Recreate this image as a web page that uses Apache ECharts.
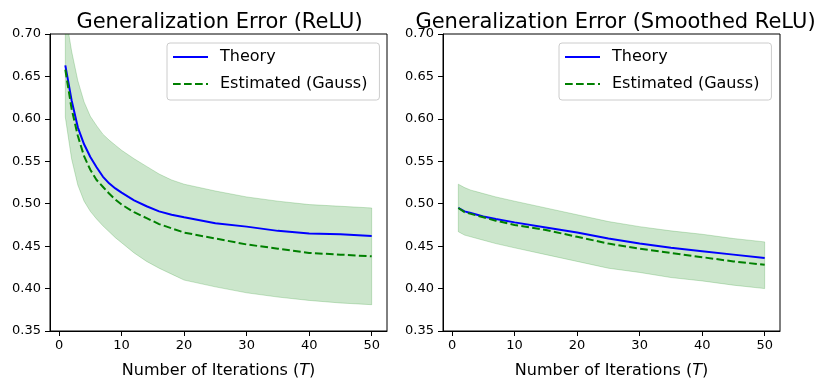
<!DOCTYPE html>
<html>
<head>
<meta charset="utf-8">
<script src="https://cdn.jsdelivr.net/npm/echarts@6/dist/echarts.min.js"></script>
<style>
  html, body { margin: 0; padding: 0; background: #fff; }
  #chart { width: 820px; height: 390px; }
</style>
</head>
<body>
<div id="chart"></div>
<script>
// left panel (ReLU)
var itersL = [1, 2, 3, 4, 5, 6, 7, 8, 9, 10, 12, 14, 16, 18, 20, 25, 30, 35, 40, 45, 50];
var theoryL = [0.663, 0.622, 0.590, 0.570, 0.555, 0.543, 0.532, 0.524, 0.518, 0.513, 0.504, 0.497, 0.491, 0.487, 0.484, 0.477, 0.473, 0.468, 0.465, 0.464, 0.462];
var estL    = [0.658, 0.612, 0.580, 0.556, 0.540, 0.528, 0.520, 0.512, 0.505, 0.499, 0.490, 0.483, 0.476, 0.471, 0.466, 0.459, 0.452, 0.447, 0.442, 0.440, 0.438];
var upperL  = [0.725, 0.680, 0.645, 0.620, 0.603, 0.592, 0.582, 0.575, 0.569, 0.563, 0.553, 0.544, 0.535, 0.528, 0.523, 0.515, 0.508, 0.503, 0.499, 0.497, 0.495];
var lowerL  = [0.602, 0.553, 0.522, 0.503, 0.491, 0.482, 0.474, 0.467, 0.460, 0.454, 0.442, 0.432, 0.424, 0.417, 0.410, 0.402, 0.395, 0.390, 0.386, 0.383, 0.381];

// right panel (Smoothed ReLU)
var itersR = [1, 2, 3, 4, 5, 7, 10, 15, 20, 25, 30, 35, 40, 45, 50];
var theoryR = [0.495, 0.491, 0.489, 0.487, 0.485, 0.482, 0.478, 0.472, 0.466, 0.459, 0.453, 0.448, 0.444, 0.440, 0.436];
var estR    = [0.495, 0.490, 0.488, 0.486, 0.484, 0.480, 0.475, 0.469, 0.461, 0.453, 0.447, 0.442, 0.437, 0.432, 0.428];
var upperR  = [0.523, 0.519, 0.516, 0.514, 0.512, 0.508, 0.503, 0.495, 0.487, 0.479, 0.473, 0.468, 0.464, 0.459, 0.455];
var lowerR  = [0.467, 0.463, 0.461, 0.459, 0.457, 0.453, 0.448, 0.440, 0.432, 0.424, 0.419, 0.413, 0.409, 0.404, 0.400];

var xTicks = [0, 10, 20, 30, 40, 50];
var titles = ['Generalization Error (ReLU)', 'Generalization Error (Smoothed ReLU)'];
var legendNames = ['Theory', 'Estimated (Gauss)'];

var FONT = 'DejaVu Sans';
var BAND = 'rgba(0,128,0,0.2)';

function pairs(xs, ys) {
    return xs.map(function (x, i) { return [x, ys[i]]; });
}

function makeX(idx) {
    return {
        type: 'value', gridIndex: idx, min: -1.45, max: 52.45,
        name: 'Number of Iterations ({i|T})',
        nameLocation: 'middle', nameGap: 32,
        nameTextStyle: { fontFamily: FONT, fontSize: 16, color: '#000',
            rich: { i: { fontFamily: FONT, fontSize: 16, fontStyle: 'italic', color: '#000' } } },
        splitLine: { show: false },
        axisLine: { onZero: false, lineStyle: { color: '#000', width: 1 } },
        axisTick: { length: 5, lineStyle: { color: '#000' }, customValues: xTicks },
        axisLabel: { fontFamily: FONT, fontSize: 13, color: '#000', margin: 8, customValues: xTicks }
    };
}

function makeY(idx) {
    return {
        type: 'value', gridIndex: idx, min: 0.35, max: 0.70, interval: 0.05,
        splitLine: { show: false },
        axisLine: { show: true, onZero: false, lineStyle: { color: '#000', width: 1 } },
        axisTick: { show: true, length: 5, lineStyle: { color: '#000' } },
        axisLabel: { fontFamily: FONT, fontSize: 13, color: '#000', margin: 9,
            formatter: function (v) { return v.toFixed(2); } }
    };
}

// shaded band between lower and upper, drawn as one polygon through the axes
function bandSeries(idx, xs, upper, lower) {
    var rows = xs.map(function (x, i) { return [x, lower[i], upper[i]]; });
    return {
        type: 'custom', xAxisIndex: idx, yAxisIndex: idx, clip: true, z: 1,
        data: rows,
        renderItem: function (params, api) {
            if (params.dataIndex !== 0) return;
            var pts = [];
            rows.forEach(function (r) { pts.push(api.coord([r[0], r[2]])); });
            rows.slice().reverse().forEach(function (r) { pts.push(api.coord([r[0], r[1]])); });
            return {
                type: 'polygon',
                shape: { points: pts },
                style: { fill: BAND, stroke: BAND, lineWidth: 1 }
            };
        }
    };
}

function makeSeries(idx, xs, theory, est, upper, lower) {
    return [
        bandSeries(idx, xs, upper, lower),
        {
            name: 'Theory', type: 'line', xAxisIndex: idx, yAxisIndex: idx,
            symbol: 'none', data: pairs(xs, theory),
            itemStyle: { color: '#0000ff' },
            lineStyle: { color: '#0000ff', width: 2 }, z: 3
        },
        {
            name: 'Estimated (Gauss)', type: 'line', xAxisIndex: idx, yAxisIndex: idx,
            symbol: 'none', data: pairs(xs, est),
            itemStyle: { color: '#008000' },
            lineStyle: { color: '#008000', width: 2, type: [7.7, 3.3] }, z: 4
        }
    ];
}

function makeLegend(left) {
    return {
        data: legendNames, orient: 'vertical', left: left, top: 43,
        itemWidth: 35, itemHeight: 14, itemGap: 11,
        padding: [6, 12, 8, 5],
        backgroundColor: 'rgba(255,255,255,0.8)', borderColor: '#cccccc', borderWidth: 1, borderRadius: 3,
        itemStyle: { opacity: 0 },
        textStyle: { fontFamily: FONT, fontSize: 16, color: '#000', padding: [0, 0, 0, 7] },
        selectedMode: false
    };
}

var chart = echarts.init(document.getElementById('chart'), null, { renderer: 'canvas' });

var option = {
    backgroundColor: '#fff',
    animation: false,
    title: [
        { text: titles[0], left: 214.5, top: 7, textAlign: 'center',
          textStyle: { fontFamily: FONT, fontSize: 21, fontWeight: 'normal', color: '#000' } },
        { text: titles[1], left: 610.5, top: 7, textAlign: 'center',
          textStyle: { fontFamily: FONT, fontSize: 21, fontWeight: 'normal', color: '#000' } }
    ],
    legend: [makeLegend(167), makeLegend(559)],
    grid: [
        { left: 50, top: 34, width: 337, height: 297, show: true, borderColor: '#000', borderWidth: 1, backgroundColor: 'transparent' },
        { left: 443, top: 34, width: 337, height: 297, show: true, borderColor: '#000', borderWidth: 1, backgroundColor: 'transparent' }
    ],
    xAxis: [makeX(0), makeX(1)],
    yAxis: [makeY(0), makeY(1)],
    series: makeSeries(0, itersL, theoryL, estL, upperL, lowerL)
        .concat(makeSeries(1, itersR, theoryR, estR, upperR, lowerR))
};

chart.setOption(option);
</script>
</body>
</html>
